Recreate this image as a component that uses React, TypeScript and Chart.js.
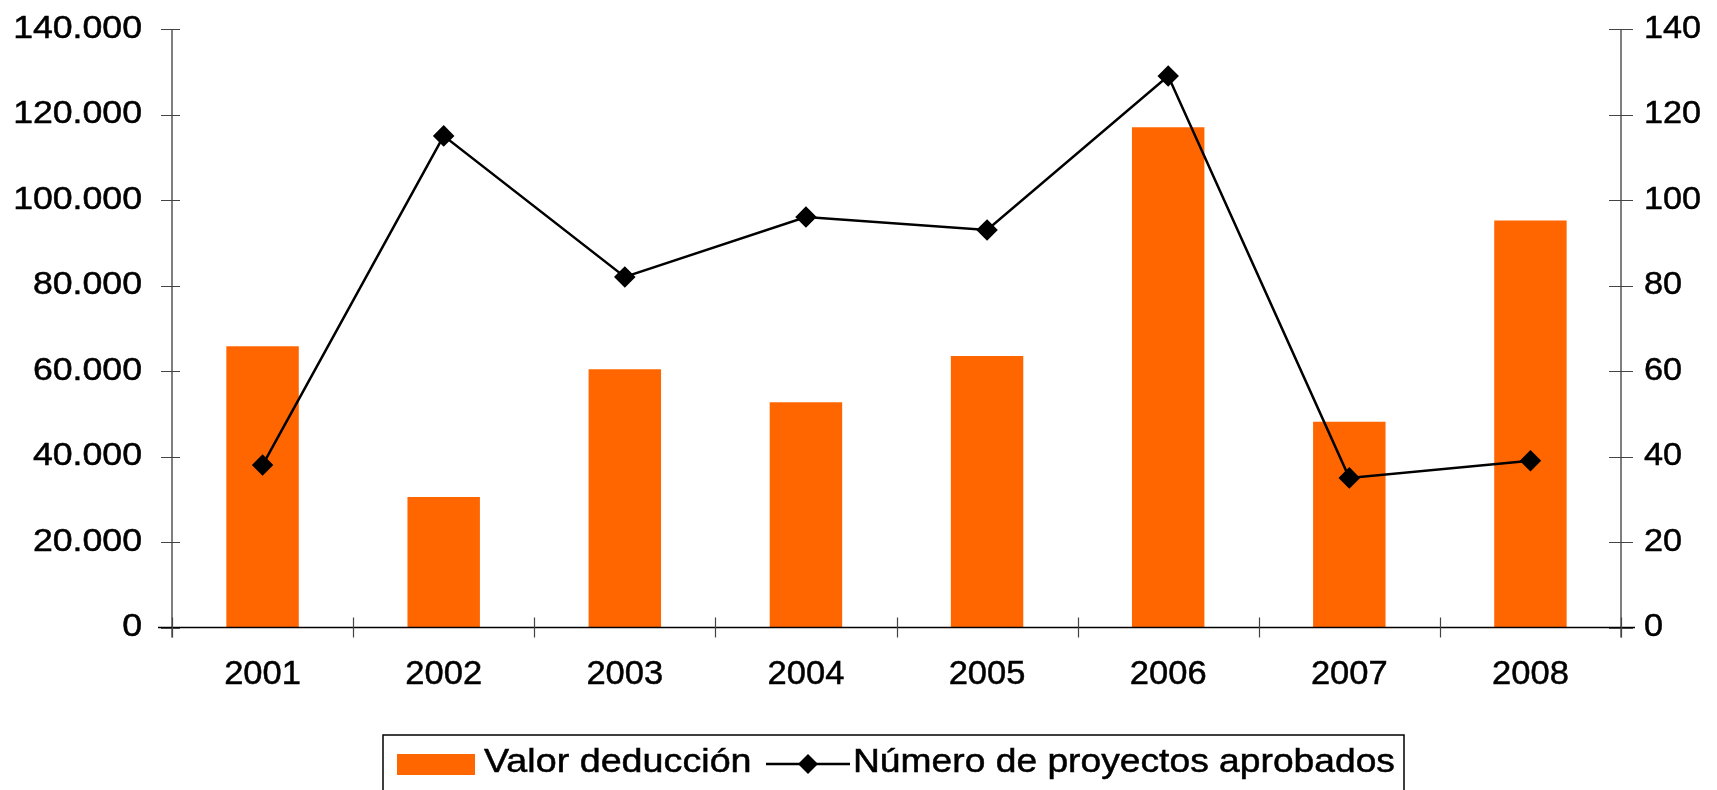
import React, { useEffect, useRef } from "react";
import { Chart, registerables } from "chart.js";

Chart.register(...registerables);

const years = ["2001", "2002", "2003", "2004", "2005", "2006", "2007", "2008"];
const valorDeduccion = [65800, 30500, 60400, 52700, 63500, 117000, 48100, 95200];
const proyectosAprobados = [38, 115, 82, 96, 93, 129, 35, 39];
const leftTicks = [0, 20000, 40000, 60000, 80000, 100000, 120000, 140000];
const rightTicks = [0, 20, 40, 60, 80, 100, 120, 140];
const legendLabels = ["Valor deducción", "Número de proyectos aprobados"];

const ORANGE = "#FF6600";
const FONT = "Liberation Sans, Arial, sans-serif";

const fmt = (v: number) => v.toLocaleString("de-DE");

function stretchedText(
  ctx: CanvasRenderingContext2D,
  text: string,
  x: number,
  y: number,
  size: number,
  sx: number,
  align: CanvasTextAlign
) {
  ctx.save();
  ctx.font = `${size}px ${FONT}`;
  ctx.textAlign = align;
  ctx.textBaseline = "middle";
  ctx.translate(x, y);
  ctx.scale(sx, 1);
  ctx.fillText(text, 0, 0);
  ctx.lineWidth = 0.5;
  ctx.strokeStyle = "#000";
  ctx.strokeText(text, 0, 0);
  ctx.restore();
}

const axesPlugin = {
  id: "customAxes",
  afterDraw(chart: any) {
    const ctx = chart.ctx;
    const { left, right, top, bottom } = chart.chartArea;
    const x = chart.scales.x;
    const y = chart.scales.y;
    const y1 = chart.scales.y1;
    ctx.save();
    ctx.strokeStyle = "#555";
    ctx.lineWidth = 1.5;
    ctx.beginPath();
    ctx.moveTo(left, top);
    ctx.lineTo(left, bottom + 10);
    ctx.moveTo(right, top);
    ctx.lineTo(right, bottom + 10);
    ctx.stroke();
    ctx.strokeStyle = "#000";
    ctx.lineWidth = 1.5;
    ctx.beginPath();
    ctx.moveTo(left - 14, bottom);
    ctx.lineTo(right + 14, bottom);
    ctx.stroke();
    ctx.strokeStyle = "#444";
    ctx.lineWidth = 1.2;
    ctx.beginPath();
    leftTicks.forEach((v) => {
      const py = Math.round(y.getPixelForValue(v)) + 0.5;
      ctx.moveTo(left - 11, py);
      ctx.lineTo(left + 8, py);
    });
    rightTicks.forEach((v) => {
      const py = Math.round(y1.getPixelForValue(v)) + 0.5;
      ctx.moveTo(right - 12, py);
      ctx.lineTo(right + 12, py);
    });
    const step = x.getPixelForValue(1) - x.getPixelForValue(0);
    for (let i = 0; i <= years.length; i++) {
      const px = i === years.length ? right : x.getPixelForValue(i) - step / 2;
      ctx.moveTo(Math.round(px) + 0.5, bottom - 10);
      ctx.lineTo(Math.round(px) + 0.5, bottom + 10);
    }
    ctx.stroke();

    ctx.fillStyle = "#000";
    leftTicks.forEach((v) => {
      stretchedText(ctx, fmt(v), left - 30, y.getPixelForValue(v), 31, 1.15, "right");
    });
    rightTicks.forEach((v) => {
      stretchedText(ctx, String(v), right + 23, y1.getPixelForValue(v), 32, 1.07, "left");
    });
    years.forEach((yr, i) => {
      stretchedText(ctx, yr, x.getPixelForValue(i), bottom + 47, 33.5, 1.03, "center");
    });

    // legend
    const bx = 383, by = 735, bw = 1021, bh = 70;
    ctx.strokeStyle = "#000";
    ctx.lineWidth = 1.5;
    ctx.strokeRect(bx, by, bw, bh);
    const cy = 763;
    ctx.fillStyle = ORANGE;
    ctx.fillRect(397, 754, 78, 21);
    ctx.fillStyle = "#000";
    stretchedText(ctx, legendLabels[0], 484, cy, 32.5, 1.16, "left");
    ctx.strokeStyle = "#000";
    ctx.lineWidth = 2.4;
    ctx.beginPath();
    ctx.moveTo(766, cy + 1);
    ctx.lineTo(850, cy + 1);
    ctx.stroke();
    ctx.beginPath();
    ctx.moveTo(808, cy + 1 - 10);
    ctx.lineTo(818, cy + 1);
    ctx.lineTo(808, cy + 1 + 10);
    ctx.lineTo(798, cy + 1);
    ctx.closePath();
    ctx.fill();
    stretchedText(ctx, legendLabels[1], 853, cy, 32.5, 1.145, "left");
    ctx.restore();
  },
};

export default function App() {
  const ref = useRef<HTMLCanvasElement>(null);
  useEffect(() => {
    document.body.style.margin = "0";
    const chart = new Chart(ref.current!, {
      type: "bar",
      data: {
        labels: years,
        datasets: [
          {
            type: "line",
            label: legendLabels[1],
            data: proyectosAprobados,
            yAxisID: "y1",
            borderColor: "#000",
            backgroundColor: "#000",
            borderWidth: 2.5,
            pointStyle: "rectRot",
            pointRadius: 9,
            pointBackgroundColor: "#000",
            pointBorderColor: "#000",
            tension: 0,
            order: 0,
          },
          {
            type: "bar",
            label: legendLabels[0],
            data: valorDeduccion,
            yAxisID: "y",
            backgroundColor: ORANGE,
            borderWidth: 0,
            categoryPercentage: 1,
            barPercentage: 0.4,
            order: 1,
          },
        ],
      },
      options: {
        animation: false,
        responsive: false,
        maintainAspectRatio: false,
        layout: { padding: { top: 29, bottom: 0, left: 0, right: 0 } },
        plugins: { legend: { display: false }, tooltip: { enabled: false } },
        scales: {
          x: {
            grid: { display: false },
            border: { display: false },
            ticks: { display: false },
            afterFit: (s: any) => { s.height = 790 - 627.5; },
          },
          y: {
            position: "left",
            min: 0,
            max: 140000,
            grid: { display: false },
            border: { display: false },
            ticks: { display: false, stepSize: 20000 },
            afterFit: (s: any) => { s.width = 172; },
          },
          y1: {
            position: "right",
            min: 0,
            max: 140,
            grid: { display: false },
            border: { display: false },
            ticks: { display: false, stepSize: 20 },
            afterFit: (s: any) => { s.width = 96; },
          },
        },
      },
      plugins: [axesPlugin],
    });
    return () => chart.destroy();
  }, []);
  return (
    <div style={{ width: 1717, height: 790, background: "#fff" }}>
      <canvas ref={ref} width={1717} height={790} style={{ display: "block" }} />
    </div>
  );
}
